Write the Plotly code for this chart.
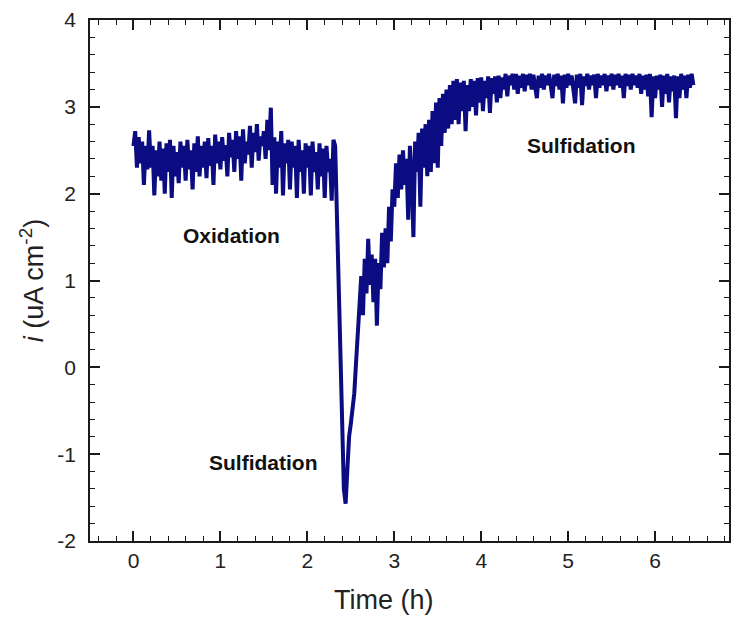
import plotly.graph_objects as go

# sampling interval of the recording (hours)
t_step = 0.02

# current density readings (uA cm^-2), one every t_step hours from t = 0
current = [
    2.55, 2.72, 2.30, 2.65, 2.35, 2.60, 2.10, 2.55, 2.28, 2.73,
    2.30, 2.55, 1.98, 2.50, 2.20, 2.60, 2.15, 2.52, 2.00, 2.58,
    2.25, 2.62, 1.95, 2.55, 2.20, 2.48, 2.12, 2.60, 2.30, 2.55,
    2.15, 2.62, 2.28, 2.50, 2.05, 2.58, 2.25, 2.66, 2.20, 2.55,
    2.30, 2.60, 2.18, 2.64, 2.32, 2.55, 2.10, 2.68, 2.35, 2.60,
    2.28, 2.65, 2.38, 2.56, 2.20, 2.70, 2.42, 2.62, 2.25, 2.72,
    2.40, 2.66, 2.15, 2.74, 2.35, 2.60, 2.45, 2.78, 2.30, 2.70,
    2.48, 2.80, 2.38, 2.66, 2.55, 2.72, 2.40, 2.85, 2.50, 2.99,
    2.10, 2.65, 2.00, 2.60, 2.30, 2.72, 1.98, 2.58, 2.35, 2.62,
    2.05, 2.60, 2.30, 2.55, 1.95, 2.62, 2.25, 2.50, 2.00, 2.58,
    2.30, 2.55, 1.98, 2.60, 2.25, 2.48, 2.05, 2.58, 2.20, 2.52,
    1.95, 2.55, 2.25, 2.40, 1.92, 2.62, 2.55, 1.70, 0.80, -0.10,
    -1.00, -1.40, -1.57, -1.10, -0.80, -0.65, -0.45, -0.30, 0.05, 0.40,
    0.70, 1.05, 0.60, 1.25, 0.85, 1.48, 0.95, 1.30, 0.75, 1.25,
    0.48, 1.20, 0.90, 1.55, 1.15, 1.60, 1.20, 1.85, 1.45, 2.05,
    1.85, 2.35, 1.95, 2.45, 2.05, 2.50, 2.10, 2.40, 1.70, 2.55,
    2.20, 1.50, 2.60, 2.25, 2.70, 1.85, 2.75, 2.30, 2.80, 2.20,
    2.85, 2.25, 2.95, 2.35, 3.05, 2.30, 3.10, 2.55, 3.15, 2.70,
    3.20, 2.75, 3.25, 2.80, 3.30, 2.85, 3.32, 2.80, 3.28, 2.95,
    3.30, 2.72, 3.25, 2.95, 3.32, 3.00, 3.30, 2.90, 3.33, 3.05,
    3.34, 2.95, 3.30, 3.10, 3.35, 2.93, 3.33, 3.15, 3.35, 3.05,
    3.36, 3.10, 3.34, 3.20, 3.38, 3.12, 3.36, 3.25, 3.38, 3.20,
    3.38, 3.15, 3.36, 3.22, 3.38, 3.18, 3.37, 3.25, 3.38, 3.20,
    3.37, 3.24, 3.10, 3.36, 3.22, 3.38, 3.20, 3.36, 3.25, 3.38,
    3.22, 3.10, 3.37, 3.24, 3.38, 3.20, 3.36, 3.04, 3.37, 3.22,
    3.38, 3.25, 3.36, 3.15, 3.04, 3.37, 3.22, 3.38, 3.02, 3.35,
    3.24, 3.38, 3.20, 3.36, 3.25, 3.37, 3.10, 3.38, 3.22, 3.36,
    3.25, 3.38, 3.18, 3.36, 3.24, 3.38, 3.20, 3.37, 3.25, 3.38,
    3.22, 3.36, 3.10, 3.38, 3.24, 3.37, 3.20, 3.38, 3.25, 3.36,
    3.22, 3.38, 3.15, 3.36, 3.20, 3.37, 3.12, 3.38, 2.88, 3.35,
    3.10, 3.36, 3.20, 3.37, 3.00, 3.36, 3.15, 3.38, 3.05, 3.35,
    3.18, 3.36, 2.87, 3.35, 3.10, 3.38, 3.20, 3.36, 3.10, 3.37,
    3.22, 3.38, 3.25,
]
time_h = [round(i * t_step, 2) for i in range(len(current))]

x_ticks = [0, 1, 2, 3, 4, 5, 6]
x_ticktext = ["0", "1", "2", "3", "4", "5", "6"]
y_ticks = [-2, -1, 0, 1, 2, 3, 4]
y_ticktext = ["-2", "-1", "0", "1", "2", "3", "4"]

labels = ["Oxidation", "Sulfidation", "Sulfidation"]
label_x = [1.13, 1.50, 5.15]
label_y = [1.52, -1.10, 2.56]

x_title = "Time (h)"
y_title = "<i>i</i> (uA cm<sup>-2</sup>)"

font_family = "Liberation Sans, Arial, sans-serif"

fig = go.Figure()
fig.add_trace(go.Scatter(
    x=time_h, y=current, mode="lines",
    line=dict(color="#0b0b82", width=4),
    showlegend=False,
))

for txt, lx, ly in zip(labels, label_x, label_y):
    fig.add_annotation(x=lx, y=ly, text="<b>%s</b>" % txt, showarrow=False,
                       font=dict(family=font_family, size=21, color="#111111"))

# x-axis title (placed slightly left of the plot centre, as in the source)
fig.add_annotation(x=2.88, xref="x", y=-0.113, yref="paper", yanchor="middle",
                   text=x_title, showarrow=False,
                   font=dict(family=font_family, size=27, color="#222222"))

axis_common = dict(
    showline=True, linecolor="#1a1a1a", linewidth=1.6, mirror="ticks",
    ticks="inside", ticklen=10, tickwidth=1.6, tickcolor="#1a1a1a",
    minor=dict(ticks="inside", ticklen=5, tickwidth=1.2, tickcolor="#1a1a1a", dtick=0.2),
    showgrid=False, zeroline=False,
    tickfont=dict(family=font_family, size=21, color="#222222"),
)

fig.update_xaxes(range=[-0.5, 6.85], tickvals=x_ticks, ticktext=x_ticktext,
                 ticklabelstandoff=0, **axis_common)
fig.update_yaxes(range=[-2, 4], tickvals=y_ticks, ticktext=y_ticktext,
                 ticklabelstandoff=8,
                 title=dict(text=y_title, standoff=6,
                            font=dict(family=font_family, size=27, color="#222222")),
                 **axis_common)

fig.update_layout(
    width=732, height=637,
    margin=dict(l=90, r=1, t=20, b=96),
    plot_bgcolor="white", paper_bgcolor="white",
)

fig.write_html("out.html")
